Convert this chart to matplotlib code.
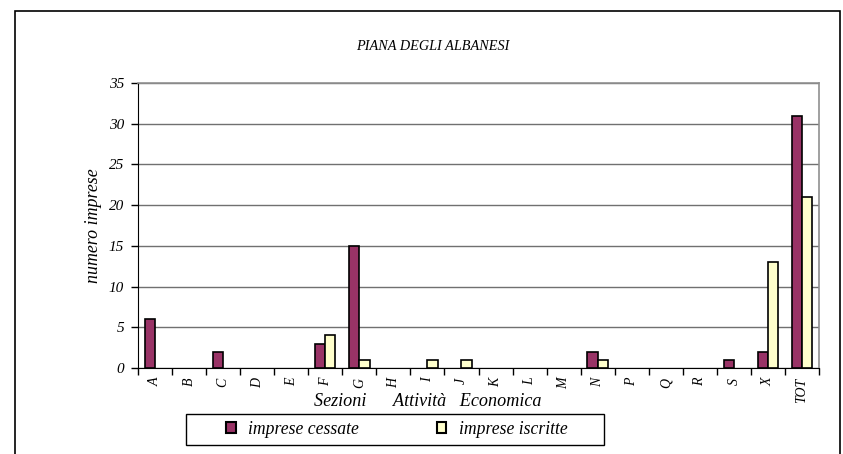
import matplotlib
matplotlib.use("Agg")
import matplotlib.pyplot as plt
import numpy as np
from matplotlib.patches import Rectangle

# Data: firms closed / registered by economic activity section
sezioni = ["A", "B", "C", "D", "E", "F", "G", "H", "I", "J",
           "K", "L", "M", "N", "P", "Q", "R", "S", "X", "TOT"]
imprese_cessate = [6, 0, 2, 0, 0, 3, 15, 0, 0, 0,
                   0, 0, 0, 2, 0, 0, 0, 1, 2, 31]
imprese_iscritte = [0, 0, 0, 0, 0, 4, 1, 0, 1, 1,
                    0, 0, 0, 1, 0, 0, 0, 0, 13, 21]
y_ticks = [0, 5, 10, 15, 20, 25, 30, 35]
serie = ["imprese cessate", "imprese iscritte"]
colori = ["#993366", "#FFFFCC"]

W, H = 843, 454
plt.rcParams["font.family"] = ["Liberation Serif", "DejaVu Serif"]
plt.rcParams["font.style"] = "italic"

fig = plt.figure(figsize=(W / 100, H / 100), dpi=100)
ax = fig.add_axes([138 / W, 1 - 368 / H, (819 - 138) / W, (368 - 83) / H])

x = np.arange(len(sezioni))
bw = 0.3


def edge_widths(values):
    # empty bars get no outline so nothing is drawn on the baseline
    return [1.2 if v else 0 for v in values]


ax.bar(x - bw / 2, imprese_cessate, bw, color=colori[0], edgecolor="black",
       linewidth=edge_widths(imprese_cessate), zorder=3)
ax.bar(x + bw / 2, imprese_iscritte, bw, color=colori[1], edgecolor="black",
       linewidth=edge_widths(imprese_iscritte), zorder=3)

ax.set_xlim(-0.5, len(sezioni) - 0.5)
ax.set_ylim(0, 35)
ax.set_yticks(y_ticks)
ax.set_yticklabels([str(v) for v in y_ticks], fontsize=11, style="italic")
ax.yaxis.grid(True, color="#707070", linewidth=1, zorder=0)

# category labels at centres, tick marks at boundaries
ax.set_xticks(x)
ax.set_xticklabels(sezioni, rotation=90, fontsize=10, style="italic")
ax.tick_params(axis="x", which="major", length=0, pad=7)
ax.set_xticks(np.arange(-0.5, len(sezioni)), minor=True)
ax.tick_params(axis="x", which="minor", length=5, width=1, color="black", direction="out")
ax.tick_params(axis="y", length=5, width=1, color="black", direction="out", pad=5)

for side in ("top", "right"):
    ax.spines[side].set_color("#909090")
    ax.spines[side].set_linewidth(1.2)
ax.spines["left"].set_color("black")
ax.spines["bottom"].set_color("black")

ax.set_ylabel("numero imprese", fontsize=12.9, style="italic", labelpad=5)

fig.text(433 / W, 1 - 47 / H, "PIANA DEGLI ALBANESI", ha="center", va="center",
         fontsize=10.3, style="italic")
fig.text(428 / W, 1 - 402 / H, "Sezioni      Attività   Economica", ha="center",
         va="center", fontsize=13.1, style="italic")

# outer chart frame
fig.patches.append(Rectangle((14.5 / W, -0.05), (839.5 - 14.5) / W, 1.05 - 11 / H,
                             transform=fig.transFigure, fill=False,
                             edgecolor="black", linewidth=1.2, clip_on=False))

# legend box and entries
fig.patches.append(Rectangle((186 / W, 1 - 445 / H), (604 - 186) / W, 31 / H,
                             transform=fig.transFigure, fill=False,
                             edgecolor="black", linewidth=1))
handles = [Rectangle((0, 0), 1, 1, facecolor=c, edgecolor="black", linewidth=1.5)
           for c in colori]
leg = fig.legend(handles, serie, loc="center left",
                 bbox_to_anchor=(226 / W, 1 - 429.5 / H),
                 ncol=2, frameon=False, borderpad=0, borderaxespad=0,
                 handlelength=0.55, handleheight=0.55, handletextpad=0.7,
                 columnspacing=4.4, prop={"style": "italic", "size": 12.7})

fig.savefig("out.png", dpi=100)
